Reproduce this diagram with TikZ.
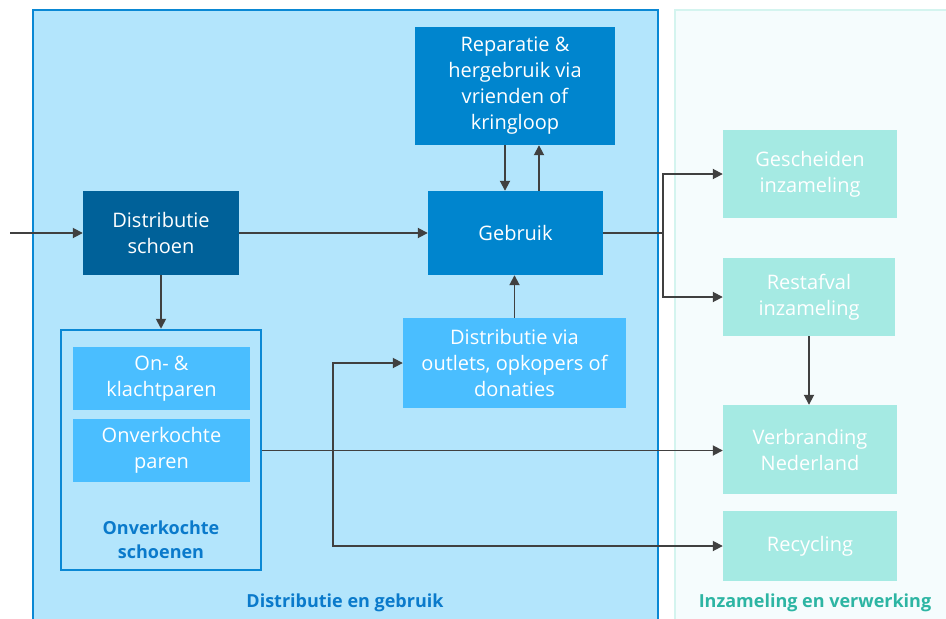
\documentclass[tikz,border=0pt]{standalone}
\usepackage{fontspec}
\setmainfont{Open Sans}
\usetikzlibrary{arrows.meta,calc}
\definecolor{panelA}{HTML}{B3E5FC}
\definecolor{panelAb}{HTML}{0A88D4}
\definecolor{panelB}{HTML}{F5FCFD}
\definecolor{panelBb}{HTML}{D4F4EF}
\definecolor{dark}{HTML}{006199}
\definecolor{mid}{HTML}{0085CE}
\definecolor{light}{HTML}{4ABEFF}
\definecolor{teal}{HTML}{A5EAE3}
\definecolor{teallab}{HTML}{2DB5A3}
\definecolor{bluelab}{HTML}{0A7ACB}
\definecolor{arrc}{HTML}{404040}
\begin{document}
\begin{tikzpicture}[x=1pt,y=-1pt,
  box/.style={draw=none,inner sep=0pt,text=white,align=center,
    font=\fontsize{20}{26}\selectfont},
  arr/.style={draw=arrc,line width=1.8pt,-{Triangle[length=10pt,width=10pt]}},
  ln/.style={draw=arrc,line width=1.8pt},
  lab/.style={font=\bfseries\fontsize{18}{24}\selectfont,align=center}]
\useasboundingbox (0,0) rectangle (946,619);
\clip (0,0) rectangle (946,619);
\fill[white] (0,0) rectangle (946,619);
% panels
\draw[fill=panelA,draw=panelAb,line width=2.5pt] (33,10) rectangle (658,640);
\draw[fill=panelB,draw=panelBb,line width=2.5pt] (675,10) rectangle (960,640);
% container
\node[draw=panelAb,line width=2.5pt,fill=panelA,minimum width=200pt,minimum height=240pt,inner sep=0pt] (cont) at (161,450) {};
% boxes
\node[box,fill=dark,minimum width=156pt,minimum height=84pt] (dist) at (161,233) {Distributie\\schoen};
\node[box,fill=mid,minimum width=200pt,minimum height=118pt] (rep) at (515,86) {Reparatie \&\\hergebruik via\\vrienden of\\kringloop};
\node[box,fill=mid,minimum width=175pt,minimum height=84pt] (geb) at (515.5,233) {Gebruik};
\node[box,fill=light,minimum width=223pt,minimum height=90pt] (outl) at (514.5,363) {Distributie via\\outlets, opkopers of\\donaties};
\node[box,fill=light,minimum width=177pt,minimum height=63pt] (on) at (161.5,378.5) {On- \&\\klachtparen};
\node[box,fill=light,minimum width=177pt,minimum height=63pt] (par) at (161.5,450.5) {Onverkochte\\paren};
\node[lab,text=bluelab] (contlab) at (161,540) {Onverkochte\\schoenen};
\node[lab,text=bluelab] (panAlab) at (345,603) {Distributie en gebruik};
\node[lab,text=teallab] (panBlab) at (815,603) {Inzameling en verwerking};
\node[box,fill=teal,minimum width=174pt,minimum height=88pt] (gesch) at (810,174) {Gescheiden\\inzameling};
\node[box,fill=teal,minimum width=172pt,minimum height=78pt] (rest) at (809,297) {Restafval\\inzameling};
\node[box,fill=teal,minimum width=174pt,minimum height=89pt] (verb) at (810,449.5) {Verbranding\\Nederland};
\node[box,fill=teal,minimum width=174pt,minimum height=70pt] (recy) at (810,546) {Recycling};
% helper coordinates
\coordinate (start) at (10,233);
\coordinate (cdn) at (505,0);
\coordinate (cup) at (539,0);
\coordinate (j1) at (663,233);
\coordinate (j2) at (333,450.5);
% connectors
\draw[arr] (start) -- (dist.west);
\draw[arr] (dist.east) -- (geb.west);
\draw[arr] (dist.south) -- (cont.north);
\draw[arr] (rep.south -| cdn) -- (geb.north -| cdn);
\draw[arr] (geb.north -| cup) -- (rep.south -| cup);
\draw[arr] (outl.north) -- (outl.north |- geb.south);
\draw[ln] (geb.east) -- (j1);
\draw[arr] (j1) |- (gesch.west);
\draw[arr] (j1) |- (rest.west);
\draw[arr] (rest.south) -- (rest.south |- verb.north);
\draw[arr] (par.east -| cont.east) -- (par.east -| verb.west);
\draw[arr] (j2) |- (outl.west);
\draw[arr] (j2) |- (recy.west);
\end{tikzpicture}
\end{document}
